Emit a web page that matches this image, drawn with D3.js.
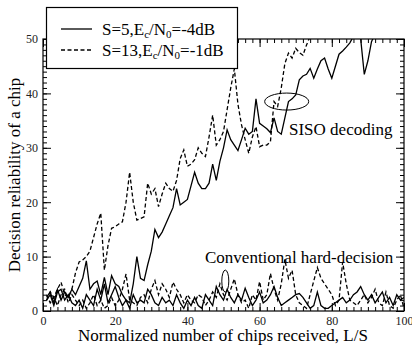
<!DOCTYPE html>
<html>
<head>
<meta charset="utf-8">
<script src="https://cdn.jsdelivr.net/npm/d3@7"></script>
<style>
  body { margin: 0; background: #fff; }
  svg { display: block; }
  svg text { font-family: "Liberation Serif", "Times New Roman", Times, "DejaVu Serif", serif; }
  .axis path, .axis line { stroke: #000; stroke-width: 1; }
  .axis text { font-size: 12px; fill: #222; }
</style>
</head>
<body>
<svg id="chart" width="412" height="348"></svg>
<script>
// L/S values 1..100
const chips = d3.range(1, 101);

// SISO decoding, S=5 (solid)
const sisoS5 = [
  2.5, 3.5, 1.5, 4, 2, 3.5, 2.5, 4, 3, 4.5,
  6, 9.2, 4, 5, 5.5, 3, 6.2, 3, 6.5, 5,
  4.5, 3, 2, 1.5, 5, 10, 6, 5.6, 8.5, 11,
  15, 13.5, 14.5, 16, 17.5, 19, 22.5, 19.5, 20, 20.5,
  23, 25.5, 23.5, 22.5, 22.5, 23.5, 27, 24, 27.5, 30,
  33.3, 31.5, 30.5, 29.5, 31.5, 33.6, 32.5, 33, 39, 34.5,
  34, 33.5, 32.8, 35.5, 33, 32.5, 35.5, 38.5, 39, 39.7,
  42.5, 43.2, 43.5, 44.6, 42.8, 44.5, 46, 46.5, 44.5, 42.8,
  45, 47.2, 47.8, 48.5, 49.3, 50.5, 51, 50, 43.5, 46,
  49.5, 51, 52, 52, 51.5, 52, 52.5, 52, 52.5, 53
];

// SISO decoding, S=13 (dashed)
const sisoS13 = [
  2, 3.5, 2.5, 4, 5.3, 3, 2.5, 4, 7, 9,
  9.4, 10, 11, 13.5, 16, 18, 7.5, 12, 15.2, 15.5,
  16, 16.4, 20, 25.5, 20, 16.7, 17, 17.3, 23.5, 21.5,
  22.5, 19.2, 21.5, 23.5, 22.5, 22, 24, 28, 29.6, 26.6,
  27, 27.8, 30, 29, 28.4, 32, 36, 30.5, 31.5, 33,
  37, 41, 44.5, 38, 34.2, 31.5, 29, 32, 33.9, 30.2,
  30.5, 30.5, 31.1, 38.5, 37.6, 41, 45.5, 47.4, 46.5, 48.3,
  47.5, 47, 48.9, 50.5, 51, 52, 51.5, 52, 52.5, 52,
  52.5, 53, 52.5, 53, 53, 53.5, 53, 53.5, 54, 54,
  54, 54.5, 54, 54.5, 55, 54.5, 55, 55, 55.5, 55
];

// Conventional hard-decision, S=5 (solid)
const hardS5 = [
  2, 3, 1, 3.5, 4, 2, 3, 1.5, 1, 2,
  0.5, 3, 2, 1, 4, 2, 5, 1.5, 3, 4.5,
  2.5, 1, 2, 0.5, 3, 1.5, 2, 1.5, 4, 3,
  1.5, 1, 2.5, 1.5, 2, 1, 3, 1.5, 0.5, 2,
  1, 2.5, 1, 0.5, 3, 2, 1, 4.5, 3, 2,
  4, 2.5, 1.5, 3, 2, 4.2, 2.5, 1, 2, 3.5,
  1.5, 2, 3, 4.5, 2.5, 1, 1.5, 2, 2.5, 3,
  3.2, 2.5, 1.5, 0.5, 1, 3.5, 1, 0.5, 0.5, 1,
  1.5, 2, 2.5, 1.5, 2, 3, 3.5, 4.5, 3, 2,
  3, 1.5, 2.5, 3.5, 1.5, 2.5, 1, 3, 2, 2.5
];

// Conventional hard-decision, S=13 (dashed)
const hardS13 = [
  3, 1.5, 2.5, 1, 3, 4, 1.5, 3, 2, 1,
  2, 0.5, 1.5, 3, 1, 2, 0.5, 1, 2.5, 1,
  2, 4, 6.8, 2, 1.5, 1, 2.5, 3, 1.5, 4,
  5.6, 3, 5, 4, 2.5, 5.3, 4, 3, 1.5, 3,
  2, 1.5, 3, 2.5, 1, 2, 3.5, 2.5, 5, 3,
  2, 4, 5.9, 3, 1.5, 2, 0.5, 3, 2, 5.4,
  2, 3, 6.9, 4, 2, 5, 9.5, 6, 7.5, 3,
  1.5, 1, 0.5, 3, 5.5, 8, 6, 5, 4, 3,
  1, 2, 9, 5, 2, 1.5, 1, 2, 3, 1.5,
  2.5, 4, 1.5, 1, 3.5, 1, 0.5, 2, 3, 0.5
];

const xTicks = [0, 20, 40, 60, 80, 100];
const yTicks = [0, 10, 20, 30, 40, 50];

const svg = d3.select("#chart");
const plotLeft = 43, plotRight = 404, plotTop = 39, plotBottom = 311;

const x = d3.scaleLinear().domain([0, 100]).range([plotLeft, plotRight]);
const y = d3.scaleLinear().domain([0, 50]).range([plotBottom, plotTop]);

svg.append("defs").append("clipPath").attr("id", "plot")
  .append("rect")
  .attr("x", plotLeft).attr("y", plotTop)
  .attr("width", plotRight - plotLeft).attr("height", plotBottom - plotTop);

// curves
const line = d3.line().x((d, i) => x(chips[i])).y(d => y(d));
const series = [
  [hardS5, null], [hardS13, "4,2.5"],
  [sisoS5, null], [sisoS13, "4,2.5"]
];
const curves = svg.append("g").attr("clip-path", "url(#plot)");
for (const [vals, dash] of series) {
  curves.append("path")
    .datum(vals)
    .attr("d", line)
    .attr("fill", "none")
    .attr("stroke", "#000")
    .attr("stroke-width", 1.3)
    .attr("stroke-dasharray", dash);
}

// frame
svg.append("rect")
  .attr("x", plotLeft).attr("y", plotTop)
  .attr("width", plotRight - plotLeft).attr("height", plotBottom - plotTop)
  .attr("fill", "none").attr("stroke", "#000").attr("stroke-width", 1.2);

// axes, ticks pointing inward
function addAxis(axis, tx, ty) {
  const g = svg.append("g").attr("class", "axis")
    .attr("transform", `translate(${tx},${ty})`).call(axis);
  g.select(".domain").remove();
  g.attr("font-family", null);
  return g;
}
addAxis(d3.axisBottom(x).tickValues(d3.range(0, 101, 2)).tickSize(-4).tickFormat(""), 0, plotBottom);
addAxis(d3.axisBottom(x).tickValues(xTicks).tickSize(-8).tickPadding(5).tickFormat(d3.format("d")), 0, plotBottom);
addAxis(d3.axisTop(x).tickValues(d3.range(0, 101, 2)).tickSize(-4).tickFormat(""), 0, plotTop);
addAxis(d3.axisTop(x).tickValues(xTicks).tickSize(-8).tickFormat(""), 0, plotTop);
addAxis(d3.axisLeft(y).tickValues(d3.range(0, 51, 1)).tickSize(-4).tickFormat(""), plotLeft, 0);
addAxis(d3.axisLeft(y).tickValues(yTicks).tickSize(-8).tickPadding(5).tickFormat(d3.format("d")), plotLeft, 0);
addAxis(d3.axisRight(y).tickValues(d3.range(0, 51, 1)).tickSize(-4).tickFormat(""), plotRight, 0);
addAxis(d3.axisRight(y).tickValues(yTicks).tickSize(-8).tickFormat(""), plotRight, 0);

// axis titles
svg.append("text")
  .attr("x", 223).attr("y", 341)
  .attr("text-anchor", "middle")
  .attr("font-size", 17)
  .text("Normalized number of chips received, L/S");

svg.append("text")
  .attr("transform", "translate(20,175) rotate(-90)")
  .attr("text-anchor", "middle")
  .attr("font-size", 17)
  .text("Decision reliability of a chip");

// annotations
svg.append("ellipse")
  .attr("cx", x(67.5)).attr("cy", y(38.5))
  .attr("rx", 22).attr("ry", 8.5)
  .attr("fill", "none").attr("stroke", "#000").attr("stroke-width", 1);

svg.append("ellipse")
  .attr("cx", x(50.5)).attr("cy", y(5.5))
  .attr("rx", 3.5).attr("ry", 11)
  .attr("fill", "none").attr("stroke", "#000").attr("stroke-width", 1);

svg.append("text")
  .attr("x", 289).attr("y", 135)
  .attr("font-size", 17)
  .text("SISO decoding");

svg.append("text")
  .attr("x", 205).attr("y", 263)
  .attr("font-size", 17)
  .text("Conventional hard-decision");

// legend
const legend = svg.append("g");
legend.append("rect")
  .attr("x", 46.5).attr("y", 7.5)
  .attr("width", 191).attr("height", 61)
  .attr("fill", "#fff").attr("stroke", "#000").attr("stroke-width", 1.2);

const legendItems = [
  { S: "5", db: "-4", dash: null, yy: 29 },
  { S: "13", db: "-1", dash: "4,2.5", yy: 50 }
];
for (const it of legendItems) {
  legend.append("line")
    .attr("x1", 61).attr("x2", 92)
    .attr("y1", it.yy).attr("y2", it.yy)
    .attr("stroke", "#000").attr("stroke-width", 1.3)
    .attr("stroke-dasharray", it.dash);
  const t = legend.append("text")
    .attr("x", 102).attr("y", it.yy + 5.5)
    .attr("font-size", 17);
  t.append("tspan").text(`S=${it.S},E`);
  t.append("tspan").attr("font-size", 11).attr("dy", 3).text("c");
  t.append("tspan").attr("dy", -3).text("/N");
  t.append("tspan").attr("font-size", 11).attr("dy", 3).text("0");
  t.append("tspan").attr("dy", -3).text(`=${it.db}dB`);
}
</script>
</body>
</html>
